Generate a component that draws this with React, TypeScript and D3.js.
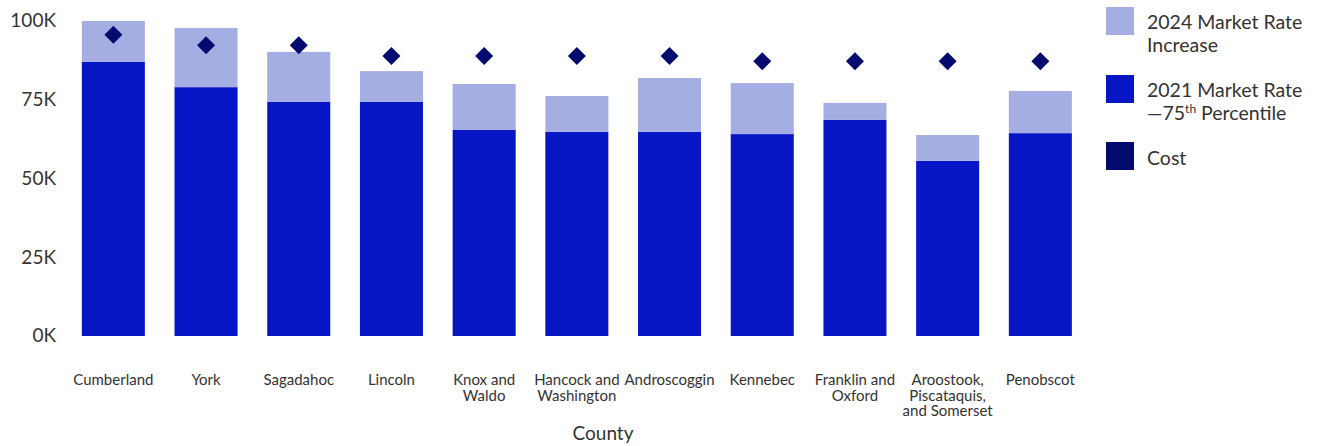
import React from "react";
import * as d3 from "d3";

const categories = [
  "Cumberland",
  "York",
  "Sagadahoc",
  "Lincoln",
  "Knox and Waldo",
  "Hancock and Washington",
  "Androscoggin",
  "Kennebec",
  "Franklin and Oxford",
  "Aroostook, Piscataquis, and Somerset",
  "Penobscot",
];
const categoryLines = [
  ["Cumberland"],
  ["York"],
  ["Sagadahoc"],
  ["Lincoln"],
  ["Knox and", "Waldo"],
  ["Hancock and", "Washington"],
  ["Androscoggin"],
  ["Kennebec"],
  ["Franklin and", "Oxford"],
  ["Aroostook,", "Piscataquis,", "and Somerset"],
  ["Penobscot"],
];
// values in thousands of dollars
const marketRate2021 = [87.0, 79.0, 74.3, 74.3, 65.4, 64.8, 64.8, 64.1, 68.6, 55.6, 64.4];
const increase2024 = [13.0, 18.8, 15.9, 9.8, 14.6, 11.4, 17.1, 16.2, 5.4, 8.2, 13.4];
const cost = [95.6, 92.3, 92.3, 88.9, 88.9, 88.9, 88.9, 87.2, 87.2, 87.2, 87.2];
const yTicks = [0, 25, 50, 75, 100];
const yTickLabels = ["0K", "25K", "50K", "75K", "100K"];

const C_LIGHT = "#a4aee2";
const C_DARK = "#0616c4";
const C_COST = "#030b6e";
const TEXT = "#333333";
const FONT = "Lato, 'Open Sans', sans-serif";

export default function App() {
  const W = 1333;
  const H = 446;
  const x = d3
    .scaleBand<string>()
    .domain(categories)
    .range([67, 1086.7])
    .paddingInner(0.32)
    .paddingOuter(0.16);
  const y = d3.scaleLinear().domain([0, 100]).range([336, 21]);
  const bw = x.bandwidth();
  const diamond = d3.symbol().type(d3.symbolSquare).size(162)();

  return (
    <svg
      width={W}
      height={H}
      style={{ position: "absolute", left: 0, top: 0, display: "block" }}
      fontFamily={FONT}
    >
      {/* y axis labels */}
      {yTicks.map((t, i) => (
        <text
          key={t}
          x={56}
          y={y(t)}
          dy="0.34em"
          textAnchor="end"
          fontSize={19}
          fill={TEXT}
        >
          {yTickLabels[i]}
        </text>
      ))}
      {/* bars */}
      {categories.map((c, i) => {
        const x0 = x(c)!;
        const base = marketRate2021[i];
        const top = base + increase2024[i];
        return (
          <g key={c}>
            <rect x={x0} y={y(base)} width={bw} height={y(0) - y(base)} fill={C_DARK} />
            <rect x={x0} y={y(top)} width={bw} height={y(base) - y(top)} fill={C_LIGHT} />
            <path
              d={diamond!}
              transform={`translate(${x0 + bw / 2},${y(cost[i])}) rotate(45)`}
              fill={C_COST}
            />
          </g>
        );
      })}
      {/* x labels */}
      {categories.map((c, i) => (
        <text
          key={c}
          x={x(c)! + bw / 2}
          y={385}
          textAnchor="middle"
          fontSize={15}
          fill={TEXT}
        >
          {categoryLines[i].map((ln, j) => (
            <tspan key={j} x={x(c)! + bw / 2} dy={j === 0 ? 0 : 15.5}>
              {ln}
            </tspan>
          ))}
        </text>
      ))}
      <text x={603} y={440} textAnchor="middle" fontSize={19} fill={TEXT}>
        County
      </text>
      {/* legend */}
      <g>
        <rect x={1106} y={7} width={28} height={28} fill={C_LIGHT} />
        <text x={1147} y={29} fontSize={19.5} fill={TEXT}>
          2024 Market Rate
        </text>
        <text x={1147} y={52} fontSize={19.5} fill={TEXT}>
          Increase
        </text>
        <rect x={1106} y={75} width={28} height={28} fill={C_DARK} />
        <text x={1147} y={97} fontSize={19.5} fill={TEXT}>
          2021 Market Rate
        </text>
        <text x={1147} y={120} fontSize={19.5} fill={TEXT}>
          —75
          <tspan fontSize={12} dy={-7}>
            th
          </tspan>
          <tspan dy={7}> Percentile</tspan>
        </text>
        <rect x={1106} y={142} width={28} height={28} fill={C_COST} />
        <text x={1147} y={165} fontSize={19.5} fill={TEXT}>
          Cost
        </text>
      </g>
    </svg>
  );
}
